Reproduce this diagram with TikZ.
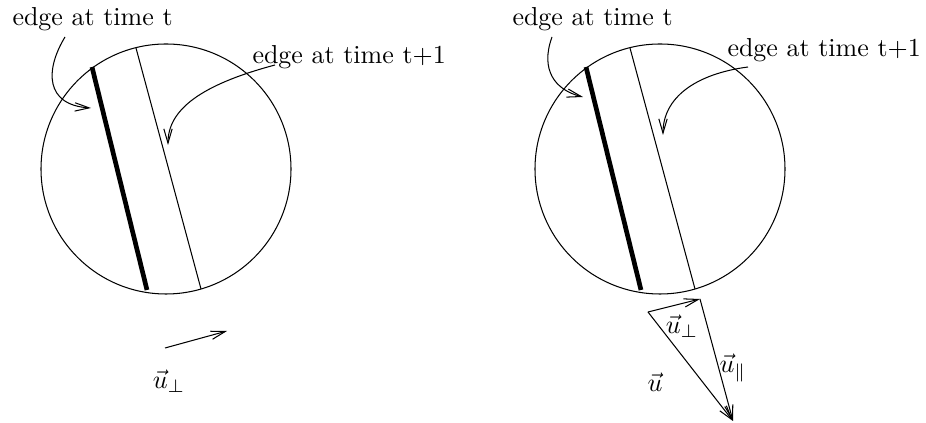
\documentclass[tikz,border=0pt]{standalone}
\usetikzlibrary{arrows.meta}
\begin{document}
\begin{tikzpicture}[x=0.01353cm,y=-0.01353cm,
  thin/.style={line width=0.4pt},
  edgebold/.style={line width=1.8pt},
  vec/.style={line width=0.4pt,-{Straight Barb[length=5.5pt,width=3.2pt]}},
  lbl/.style={anchor=base west,inner sep=0pt},
  mlbl/.style={inner sep=0pt}]
\useasboundingbox (0,0) rectangle (926,423);
% left circle
\coordinate (cL) at (166,169);
\draw[thin] (cL) circle[radius=125];
\coordinate (tA) at (92,67);  \coordinate (tB) at (147,290);
\coordinate (sA) at (136,48); \coordinate (sB) at (201,289);
\draw[edgebold] (tA) -- (tB);
\draw[thin] (sA) -- (sB);
\node[lbl] (labT) at (12,26) {edge at time t};
\node[lbl] (labS) at (252,64) {edge at time t+1};
\coordinate (pT0) at (65,37); \coordinate (pT1) at (91,108);
\draw[vec] (pT0) .. controls (45,70) and (45,105) .. (pT1);
\coordinate (pS0) at (275,65); \coordinate (pS1) at (168,145);
\draw[vec] (pS0) .. controls (200,85) and (168,110) .. (pS1);
\coordinate (uA) at (165,348); \coordinate (uB) at (227,331);
\draw[vec] (uA) -- (uB);
\node[mlbl] (lu) at (169,381) {$\vec{u}_\perp$};
% right circle
\coordinate (cR) at (660,169);
\draw[thin] (cR) circle[radius=125];
\coordinate (rtA) at (586,67);  \coordinate (rtB) at (641,290);
\coordinate (rsA) at (630,48); \coordinate (rsB) at (695,289);
\draw[edgebold] (rtA) -- (rtB);
\draw[thin] (rsA) -- (rsB);
\node[lbl] (rlabT) at (512,26) {edge at time t};
\node[lbl] (rlabS) at (727,57) {edge at time t+1};
\coordinate (rpT0) at (552,37); \coordinate (rpT1) at (583,97);
\draw[vec] (rpT0) .. controls (540,70) and (555,90) .. (rpT1);
\coordinate (rpS0) at (748,67); \coordinate (rpS1) at (663,135);
\draw[vec] (rpS0) .. controls (695,74) and (663,98) .. (rpS1);
\coordinate (vO) at (648,312); \coordinate (vP) at (700,299); \coordinate (vT) at (733,421);
\draw[vec] (vO) -- (vP);
\draw[vec] (vO) -- (vT);
\draw[vec] (vP) -- (vT);
\node[mlbl] (lup) at (682,326) {$\vec{u}_\perp$};
\node[mlbl] (lupar) at (733,368) {$\vec{u}_\parallel$};
\node[mlbl] (luu) at (655,382) {$\vec{u}$};
\end{tikzpicture}
\end{document}
